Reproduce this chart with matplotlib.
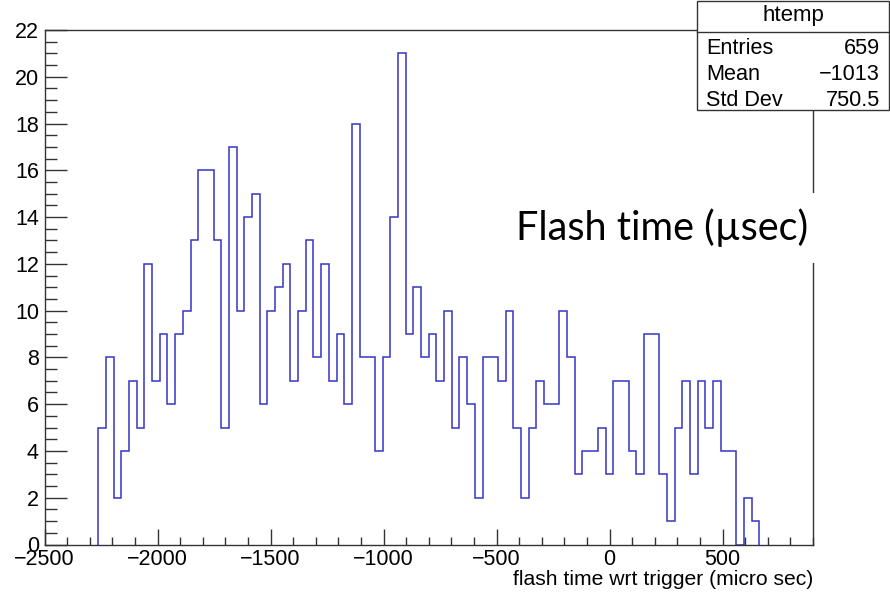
import numpy as np
import matplotlib
matplotlib.use('Agg')
import matplotlib.pyplot as plt
from matplotlib.patches import Rectangle
from matplotlib.ticker import MultipleLocator

# ── Histogram (ROOT htemp: 100 bins from -2500 to 900) ─────────────────────
X_MIN, X_MAX, N_BINS = -2500, 900, 100
FIRST_BIN = 7  # first non-empty bin

counts = [5, 8, 2, 4, 7, 5, 12, 7, 9, 6, 9, 10, 13, 16, 16, 13, 5, 17, 10, 14,
          15, 6, 10, 11, 12, 7, 10, 13, 8, 12, 7, 9, 6, 18, 8, 8, 4, 8, 14, 21,
          9, 11, 8, 9, 7, 10, 5, 8, 6, 2, 8, 8, 7, 10, 5, 2, 5, 7, 6, 6,
          10, 8, 3, 4, 4, 5, 3, 7, 7, 4, 3, 9, 9, 3, 1, 5, 7, 3, 7, 5,
          7, 4, 4, 0, 2, 1]

stat_names = ['Entries', 'Mean', 'Std Dev']
stat_values = ['659', '\u22121013', '750.5']

Y_MAX = 22
X_LABEL = 'flash time wrt trigger (micro sec)'
OVERLAY = 'Flash time (\u00b5sec)'

# ── Style ───────────────────────────────────────────────────────────────────
plt.rcParams['font.family'] = ['Liberation Sans', 'DejaVu Sans']
LINE_BLUE = '#3434c4'
W, H = 890, 593

fig = plt.figure(figsize=(W / 100, H / 100), dpi=100)
ax = fig.add_axes([44.5 / W, 1 - 544.5 / H, (813 - 44.5) / W, (544.5 - 30) / H])

edges = np.linspace(X_MIN, X_MAX, N_BINS + 1)
sub_edges = edges[FIRST_BIN:FIRST_BIN + len(counts) + 1]
ax.stairs(counts, sub_edges, baseline=0, fill=False, color=LINE_BLUE, lw=1.1)

ax.set_xlim(X_MIN, X_MAX)
ax.set_ylim(0, Y_MAX)

ax.xaxis.set_major_locator(MultipleLocator(500))
ax.xaxis.set_minor_locator(MultipleLocator(100))
ax.yaxis.set_major_locator(MultipleLocator(2))
ax.yaxis.set_minor_locator(MultipleLocator(0.5))

ax.tick_params(axis='both', which='both', direction='in', top=False, right=False,
               labelsize=15.5, width=1.0, color='#333333')
ax.tick_params(axis='y', which='major', length=16, pad=4)
ax.tick_params(axis='y', which='minor', length=8.5)
ax.tick_params(axis='x', which='major', length=11.5, pad=3)
ax.tick_params(axis='x', which='minor', length=6)

for s in ax.spines.values():
    s.set_linewidth(1.0)
    s.set_color('#333333')

ax.set_xlabel(X_LABEL, loc='right', fontsize=15.2, labelpad=0)

# ── Stats box ───────────────────────────────────────────────────────────────
bx0, bx1, by0, by1, bsep = 697 / W, 889 / W, 1 - 110 / H, 1 - 1 / H, 1 - 32 / H
fig.patches.append(Rectangle((bx0, by0), bx1 - bx0, by1 - by0, transform=fig.transFigure,
                             facecolor='white', edgecolor='#333333', lw=1.0, zorder=5))
fig.add_artist(plt.Line2D([bx0, bx1], [bsep, bsep], transform=fig.transFigure,
                          color='#333333', lw=1.0, zorder=6))
fig.text((bx0 + bx1) / 2, 1 - 16 / H, 'htemp', ha='center', va='center',
         fontsize=16, zorder=7)
for i, (name, val) in enumerate(zip(stat_names, stat_values)):
    yy = 1 - (48 + 26.5 * i) / H
    fig.text(bx0 + 9 / W, yy, name, ha='left', va='center', fontsize=15.6, zorder=7)
    fig.text(bx1 - 9 / W, yy, val, ha='right', va='center', fontsize=15.6, zorder=7)

# ── Pasted slide label ──────────────────────────────────────────────────────
ax.text(808 / W, 1 - 228 / H, OVERLAY, transform=fig.transFigure, ha='right',
        va='center', fontsize=28.5, family=['Lato', 'DejaVu Sans'], zorder=8,
        bbox=dict(facecolor='white', edgecolor='none', pad=11))

fig.savefig('out.png', dpi=100)
